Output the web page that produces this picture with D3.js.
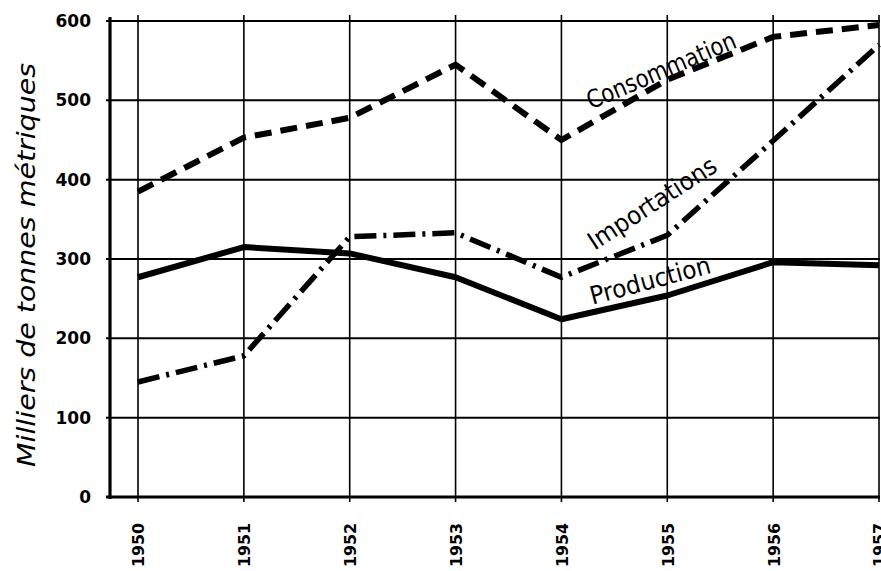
<!DOCTYPE html>
<html>
<head>
<meta charset="utf-8">
<script src="https://cdn.jsdelivr.net/npm/d3@7"></script>
<style>
  body { margin: 0; background: #fff; }
  svg { display: block; }
</style>
</head>
<body>
<svg id="chart" width="881" height="571"></svg>
<script>
// data
const years = [1950, 1951, 1952, 1953, 1954, 1955, 1956, 1957];
const consommation = [385, 453, 478, 545, 450, 526, 580, 595];
const importations = [145, 178, 328, 333, 277, 330, 449, 570];
const production = [277, 315, 307, 277, 224, 254, 296, 292];
const yTicks = [0, 100, 200, 300, 400, 500, 600];
const yTitle = 'Milliers de tonnes métriques';

const svg = d3.select('#chart');

const x = d3.scaleLinear().domain([1950, 1957]).range([138, 879]);
const y = d3.scaleLinear().domain([0, 600]).range([497, 21]);

// horizontal grid
svg.append('g')
    .selectAll('line')
    .data(yTicks)
    .enter().append('line')
    .attr('x1', 106).attr('x2', 880)
    .attr('y1', d => y(d)).attr('y2', d => y(d))
    .attr('stroke', '#000')
    .attr('stroke-width', d => d === 0 ? 3 : 2);

// vertical grid
svg.append('g')
    .selectAll('line')
    .data(years)
    .enter().append('line')
    .attr('x1', d => x(d)).attr('x2', d => x(d))
    .attr('y1', 15).attr('y2', 502)
    .attr('stroke', '#000')
    .attr('stroke-width', 1.6);

// left axis
svg.append('line')
    .attr('x1', 110).attr('x2', 110)
    .attr('y1', 17).attr('y2', 499)
    .attr('stroke', '#000')
    .attr('stroke-width', 3.2);

// y tick labels
svg.append('g')
    .selectAll('text')
    .data(yTicks)
    .enter().append('text')
    .attr('x', 91)
    .attr('y', d => y(d))
    .attr('dy', '0.36em')
    .attr('text-anchor', 'end')
    .attr('font-family', 'DejaVu Sans')
    .attr('font-weight', 'bold')
    .attr('font-size', 17)
    .text(d => d);

// x labels (rotated)
svg.append('g')
    .selectAll('text')
    .data(years)
    .enter().append('text')
    .attr('transform', d => `translate(${x(d) + 1},567) rotate(-90)`)
    .attr('dy', '0.36em')
    .attr('font-family', 'DejaVu Sans')
    .attr('font-weight', 'bold')
    .attr('font-size', 15)
    .attr('textLength', 44)
    .attr('lengthAdjust', 'spacingAndGlyphs')
    .text(d => d);

// y title
svg.append('text')
    .attr('transform', 'translate(26,265) rotate(-90)')
    .attr('text-anchor', 'middle')
    .attr('dy', '0.36em')
    .attr('font-family', 'DejaVu Sans')
    .attr('font-style', 'italic')
    .attr('font-size', 25)
    .attr('textLength', 404)
    .attr('lengthAdjust', 'spacingAndGlyphs')
    .text(yTitle);

const line = d3.line()
    .x((d, i) => x(years[i]))
    .y(d => y(d));

svg.append('path')
    .datum(consommation)
    .attr('d', line)
    .attr('fill', 'none')
    .attr('stroke', '#000')
    .attr('stroke-width', 6)
    .attr('stroke-dasharray', '17,9');

svg.append('path')
    .datum(importations)
    .attr('d', line)
    .attr('fill', 'none')
    .attr('stroke', '#000')
    .attr('stroke-width', 5.5)
    .attr('stroke-dasharray', '22,7,3,7');

svg.append('path')
    .datum(production)
    .attr('d', line)
    .attr('fill', 'none')
    .attr('stroke', '#000')
    .attr('stroke-width', 6)
    .attr('stroke-linejoin', 'round');

// line labels
const labels = [
    { text: 'Consommation', cx: 661, cy: 70, angle: -23, len: 160 },
    { text: 'Importations', cx: 652, cy: 203, angle: -33, len: 148 },
    { text: 'Production', cx: 650, cy: 280, angle: -15, len: 124 }
];

svg.append('g')
    .selectAll('text')
    .data(labels)
    .enter().append('text')
    .attr('transform', d => `translate(${d.cx},${d.cy}) rotate(${d.angle})`)
    .attr('text-anchor', 'middle')
    .attr('dy', '0.36em')
    .attr('font-family', 'DejaVu Sans Condensed, DejaVu Sans')
    .attr('font-size', 25)
    .attr('textLength', d => d.len)
    .attr('lengthAdjust', 'spacingAndGlyphs')
    .text(d => d.text);
</script>
</body>
</html>
